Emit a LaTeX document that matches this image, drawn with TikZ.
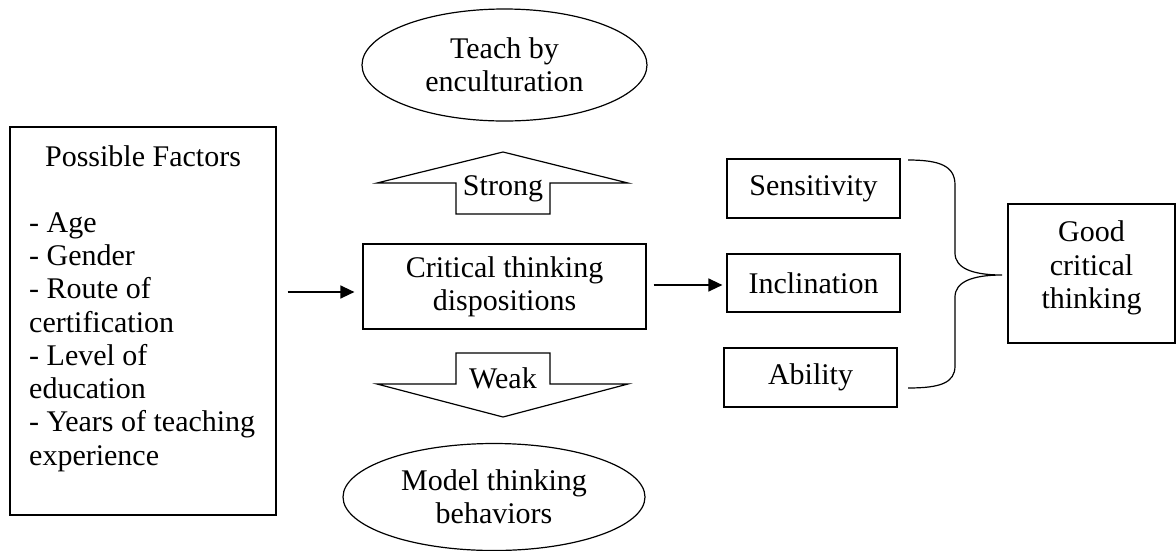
\documentclass[tikz,border=0pt]{standalone}
\usepackage{fontspec}
\setmainfont{Liberation Serif}
\usetikzlibrary{shapes.geometric,arrows.meta}

\tikzset{
  base/.style={font=\fontsize{30pt}{33.3pt}\selectfont, inner sep=0pt},
  boxnode/.style={base, draw, line width=1.2pt, align=center},
  oval/.style={base, draw, line width=1.2pt, ellipse, align=center},
  txt/.style={base, align=center},
  blockarrow/.style={draw, line width=1.2pt, line join=miter},
  brace/.style={draw, line width=1.2pt},
  arr/.style={line width=1.4pt, -{Triangle[length=14pt,width=13pt]}},
}

\begin{document}
\begin{tikzpicture}[x=1pt, y=-1pt]
\useasboundingbox (0,0) rectangle (1176,550);

% factors box
\node[boxnode, minimum width=266pt, minimum height=388pt] (factors) at (143,321) {};
\node[txt] (factorstitle) at (143,156) {Possible Factors};
\node[txt, align=left, anchor=west] (factorslist) at (29,342)
  {- Age\\- Gender\\- Route of\\certification\\- Level of\\education\\- Years of teaching\\experience};

% central disposition box
\node[boxnode, minimum width=283pt, minimum height=85pt] (crit) at (504.5,286.5)
  {Critical thinking\\dispositions};

% ovals
\node[oval, minimum width=285pt, minimum height=112pt] (teach) at (504.5,65)
  {Teach by\\enculturation};
\node[oval, minimum width=302pt, minimum height=107pt] (model) at (494,497)
  {Model thinking\\behaviors};

% block arrows
\draw[blockarrow] (377,183) -- (503,152) -- (628,183) -- (550,183) -- (550,214)
  -- (456,214) -- (456,183) -- cycle;
\node[txt] (strong) at (503,189) {Strong};
\draw[blockarrow] (456,353) -- (550,353) -- (550,384) -- (628,384) -- (503,417)
  -- (377,384) -- (456,384) -- cycle;
\node[txt] (weak) at (503,378) {Weak};

% disposition components
\node[boxnode, minimum width=173pt, minimum height=59pt] (sens) at (813.5,188.5) {Sensitivity};
\node[boxnode, minimum width=173pt, minimum height=58pt] (incl) at (813.5,283) {Inclination};
\node[boxnode, minimum width=173pt, minimum height=59pt] (abil) at (810.5,377.5) {Ability};

% outcome box
\node[boxnode, minimum width=167pt, minimum height=139pt] (good) at (1091.5,273.5) {};
\node[txt] (goodtxt) at (1091.5,268) {Good\\critical\\thinking};

% connectors
\draw[arr, shorten <=11pt, shorten >=8pt] (factors.east |- 0,292) -- (crit.west |- 0,292);
\draw[arr, shorten <=7pt, shorten >=4pt] (crit.east |- 0,285) -- (incl.west |- 0,285);

% brace
\draw[brace] (908,160) .. controls (940,160) and (955,166) .. (955,185)
  -- (955,253) .. controls (955,268) and (972,275) .. (1002,275)
  .. controls (972,275) and (955,282) .. (955,297)
  -- (955,366) .. controls (955,383) and (940,388) .. (908,388);
\end{tikzpicture}
\end{document}
